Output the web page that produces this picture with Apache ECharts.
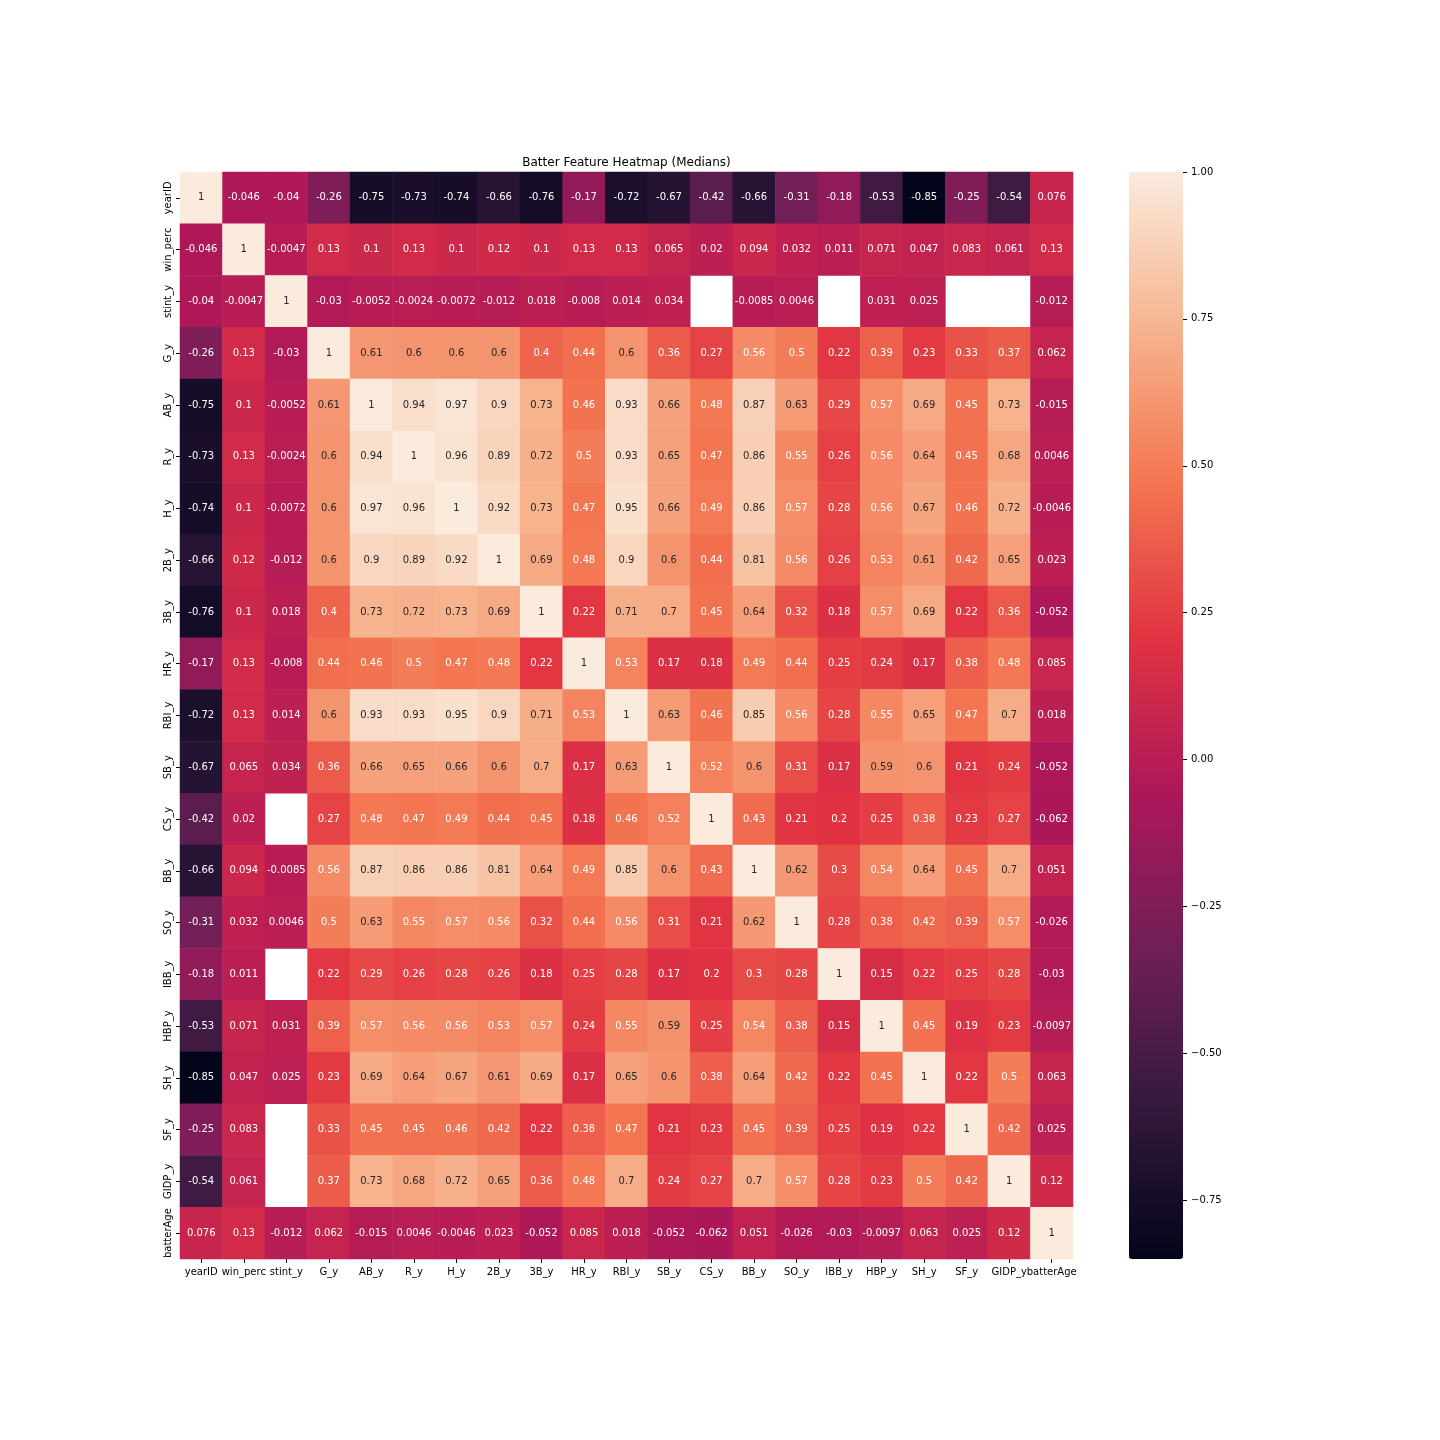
<!DOCTYPE html>
<html>
<head>
<meta charset="utf-8">
<title>Batter Feature Heatmap (Medians)</title>
<script src="https://cdn.jsdelivr.net/npm/echarts@6/dist/echarts.min.js"></script>
<style>
  html, body { margin: 0; padding: 0; background: #fff; }
  #chart { width: 1440px; height: 1440px; }
</style>
</head>
<body>
<div id="chart"></div>
<script>
// feature names (same order on both axes)
var features = ['yearID', 'win_perc', 'stint_y', 'G_y', 'AB_y', 'R_y', 'H_y', '2B_y', '3B_y', 'HR_y',
  'RBI_y', 'SB_y', 'CS_y', 'BB_y', 'SO_y', 'IBB_y', 'HBP_y', 'SH_y', 'SF_y', 'GIDP_y', 'batterAge']

// correlation rows, null = missing (drawn blank)
var yearID    = [1, -0.046, -0.04, -0.26, -0.75, -0.73, -0.74, -0.66, -0.76, -0.17, -0.72, -0.67, -0.42, -0.66, -0.31, -0.18, -0.53, -0.85, -0.25, -0.54, 0.076]
var win_perc  = [-0.046, 1, -0.0047, 0.13, 0.1, 0.13, 0.1, 0.12, 0.1, 0.13, 0.13, 0.065, 0.02, 0.094, 0.032, 0.011, 0.071, 0.047, 0.083, 0.061, 0.13]
var stint_y   = [-0.04, -0.0047, 1, -0.03, -0.0052, -0.0024, -0.0072, -0.012, 0.018, -0.008, 0.014, 0.034, null, -0.0085, 0.0046, null, 0.031, 0.025, null, null, -0.012]
var G_y       = [-0.26, 0.13, -0.03, 1, 0.61, 0.6, 0.6, 0.6, 0.4, 0.44, 0.6, 0.36, 0.27, 0.56, 0.5, 0.22, 0.39, 0.23, 0.33, 0.37, 0.062]
var AB_y      = [-0.75, 0.1, -0.0052, 0.61, 1, 0.94, 0.97, 0.9, 0.73, 0.46, 0.93, 0.66, 0.48, 0.87, 0.63, 0.29, 0.57, 0.69, 0.45, 0.73, -0.015]
var R_y       = [-0.73, 0.13, -0.0024, 0.6, 0.94, 1, 0.96, 0.89, 0.72, 0.5, 0.93, 0.65, 0.47, 0.86, 0.55, 0.26, 0.56, 0.64, 0.45, 0.68, 0.0046]
var H_y       = [-0.74, 0.1, -0.0072, 0.6, 0.97, 0.96, 1, 0.92, 0.73, 0.47, 0.95, 0.66, 0.49, 0.86, 0.57, 0.28, 0.56, 0.67, 0.46, 0.72, -0.0046]
var B2_y      = [-0.66, 0.12, -0.012, 0.6, 0.9, 0.89, 0.92, 1, 0.69, 0.48, 0.9, 0.6, 0.44, 0.81, 0.56, 0.26, 0.53, 0.61, 0.42, 0.65, 0.023]
var B3_y      = [-0.76, 0.1, 0.018, 0.4, 0.73, 0.72, 0.73, 0.69, 1, 0.22, 0.71, 0.7, 0.45, 0.64, 0.32, 0.18, 0.57, 0.69, 0.22, 0.36, -0.052]
var HR_y      = [-0.17, 0.13, -0.008, 0.44, 0.46, 0.5, 0.47, 0.48, 0.22, 1, 0.53, 0.17, 0.18, 0.49, 0.44, 0.25, 0.24, 0.17, 0.38, 0.48, 0.085]
var RBI_y     = [-0.72, 0.13, 0.014, 0.6, 0.93, 0.93, 0.95, 0.9, 0.71, 0.53, 1, 0.63, 0.46, 0.85, 0.56, 0.28, 0.55, 0.65, 0.47, 0.7, 0.018]
var SB_y      = [-0.67, 0.065, 0.034, 0.36, 0.66, 0.65, 0.66, 0.6, 0.7, 0.17, 0.63, 1, 0.52, 0.6, 0.31, 0.17, 0.59, 0.6, 0.21, 0.24, -0.052]
var CS_y      = [-0.42, 0.02, null, 0.27, 0.48, 0.47, 0.49, 0.44, 0.45, 0.18, 0.46, 0.52, 1, 0.43, 0.21, 0.2, 0.25, 0.38, 0.23, 0.27, -0.062]
var BB_y      = [-0.66, 0.094, -0.0085, 0.56, 0.87, 0.86, 0.86, 0.81, 0.64, 0.49, 0.85, 0.6, 0.43, 1, 0.62, 0.3, 0.54, 0.64, 0.45, 0.7, 0.051]
var SO_y      = [-0.31, 0.032, 0.0046, 0.5, 0.63, 0.55, 0.57, 0.56, 0.32, 0.44, 0.56, 0.31, 0.21, 0.62, 1, 0.28, 0.38, 0.42, 0.39, 0.57, -0.026]
var IBB_y     = [-0.18, 0.011, null, 0.22, 0.29, 0.26, 0.28, 0.26, 0.18, 0.25, 0.28, 0.17, 0.2, 0.3, 0.28, 1, 0.15, 0.22, 0.25, 0.28, -0.03]
var HBP_y     = [-0.53, 0.071, 0.031, 0.39, 0.57, 0.56, 0.56, 0.53, 0.57, 0.24, 0.55, 0.59, 0.25, 0.54, 0.38, 0.15, 1, 0.45, 0.19, 0.23, -0.0097]
var SH_y      = [-0.85, 0.047, 0.025, 0.23, 0.69, 0.64, 0.67, 0.61, 0.69, 0.17, 0.65, 0.6, 0.38, 0.64, 0.42, 0.22, 0.45, 1, 0.22, 0.5, 0.063]
var SF_y      = [-0.25, 0.083, null, 0.33, 0.45, 0.45, 0.46, 0.42, 0.22, 0.38, 0.47, 0.21, 0.23, 0.45, 0.39, 0.25, 0.19, 0.22, 1, 0.42, 0.025]
var GIDP_y    = [-0.54, 0.061, null, 0.37, 0.73, 0.68, 0.72, 0.65, 0.36, 0.48, 0.7, 0.24, 0.27, 0.7, 0.57, 0.28, 0.23, 0.5, 0.42, 1, 0.12]
var batterAge = [0.076, 0.13, -0.012, 0.062, -0.015, 0.0046, -0.0046, 0.023, -0.052, 0.085, 0.018, -0.052, -0.062, 0.051, -0.026, -0.03, -0.0097, 0.063, 0.025, 0.12, 1]

var rows = [yearID, win_perc, stint_y, G_y, AB_y, R_y, H_y, B2_y, B3_y, HR_y, RBI_y, SB_y, CS_y,
  BB_y, SO_y, IBB_y, HBP_y, SH_y, SF_y, GIDP_y, batterAge]

// colorbar ticks
var cbarTicks = [-0.75, -0.5, -0.25, 0, 0.25, 0.5, 0.75, 1]
var vMin = -0.85
var vMax = 1

// seaborn "rocket" approximated
var rocket = ['#03051a', '#35193e', '#701f57', '#ad1759', '#e13342', '#f37651', '#f6b48f', '#faebdd']

var cells = []
rows.forEach(function (row, y) {
  row.forEach(function (v, x) {
    if (v === null) return
    cells.push({
      value: [x, y, v],
      label: { color: v >= 0.58 ? '#262626' : '#ffffff' }
    })
  })
})

var font = 'DejaVu Sans'
var chart = echarts.init(document.getElementById('chart'))
chart.setOption({
  backgroundColor: '#fff',
  animation: false,
  textStyle: { fontFamily: font },
  title: {
    text: 'Batter Feature Heatmap (Medians)',
    left: 626.5,
    textAlign: 'center',
    top: 157,
    padding: 0,
    textStyle: { fontFamily: font, fontSize: 12, fontWeight: 'normal', color: '#000' }
  },
  grid: [
    { left: 180, top: 172, width: 893, height: 1087 },
    { left: 1129, top: 172, width: 54, height: 1087 }
  ],
  xAxis: [
    {
      type: 'category', gridIndex: 0, data: features,
      axisLine: { show: false },
      axisTick: { show: true, alignWithLabel: true, length: 4, lineStyle: { color: '#000' } },
      axisLabel: { fontFamily: font, fontSize: 10, color: '#000', margin: 8, interval: 0 },
      splitLine: { show: false }
    },
    { type: 'category', gridIndex: 1, data: [''], show: false }
  ],
  yAxis: [
    {
      type: 'category', gridIndex: 0, data: features, inverse: true,
      axisLine: { show: false },
      axisTick: { show: true, alignWithLabel: true, length: 4, lineStyle: { color: '#000' } },
      axisLabel: { fontFamily: font, fontSize: 10, color: '#000', rotate: 90, margin: 7, interval: 0 },
      splitLine: { show: false }
    },
    {
      type: 'value', gridIndex: 1, min: vMin, max: vMax, position: 'right',
      axisLine: { show: false },
      splitLine: { show: false },
      axisTick: { show: true, inside: false, length: 4, customValues: cbarTicks, lineStyle: { color: '#000' } },
      axisLabel: {
        fontFamily: font, fontSize: 10, color: '#000', margin: 8,
        customValues: cbarTicks,
        formatter: function (v) { return (v < 0 ? '\u2212' : '') + Math.abs(v).toFixed(2) }
      }
    }
  ],
  visualMap: {
    type: 'continuous',
    seriesIndex: 0,
    min: vMin,
    max: vMax,
    calculable: false,
    realtime: false,
    left: 1129,
    top: 172,
    padding: 0,
    itemWidth: 54,
    itemHeight: 1087,
    text: null,
    showLabel: false,
    hoverLink: false,
    inRange: { color: rocket }
  },
  series: [{
    type: 'heatmap',
    xAxisIndex: 0,
    yAxisIndex: 0,
    data: cells,
    label: {
      show: true,
      fontFamily: font,
      fontSize: 10,
      formatter: function (p) { return String(p.value[2]) }
    },
    itemStyle: { borderWidth: 0 },
    emphasis: { disabled: true }
  }]
})
</script>
</body>
</html>
